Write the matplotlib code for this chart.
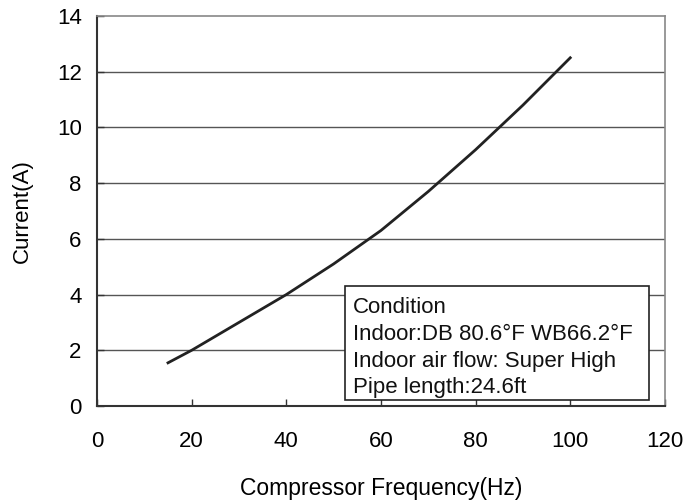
import matplotlib
matplotlib.use("Agg")
import numpy as np
from matplotlib import pyplot as plt
from matplotlib.patches import Rectangle

# data
freq = [15, 20, 30, 40, 50, 60, 70, 80, 90, 100]
current = [1.55, 2.0, 3.0, 4.0, 5.1, 6.3, 7.7, 9.2, 10.8, 12.5]
xticks = [0, 20, 40, 60, 80, 100, 120]
yticks = [0, 2, 4, 6, 8, 10, 12, 14]
cond_lines = ["Condition",
              "Indoor:DB 80.6\u00b0F WB66.2\u00b0F",
              "Indoor air flow: Super High",
              "Pipe length:24.6ft"]

plt.rcParams['font.family'] = ['Liberation Sans', 'DejaVu Sans']

fig = plt.figure(figsize=(6.89, 5.0), dpi=100)
ax = fig.add_axes([0.1408, 0.188, 0.8242, 0.78])

for yv in yticks[1:-1]:
    ax.axhline(yv, color='#555555', lw=1.0, zorder=1)

ax.plot(freq, current, color='#222222', lw=2.0, zorder=3)

ax.set_xlim(0, 120)
ax.set_ylim(0, 14)
ax.set_xticks(xticks)
ax.set_yticks(yticks)
ax.tick_params(direction='in', length=5, width=1, colors='#333333',
               labelsize=16, labelcolor='black')
ax.tick_params(axis='x', pad=18)
ax.tick_params(axis='y', pad=11)

for s in ['left', 'bottom']:
    ax.spines[s].set_color('#333333')
    ax.spines[s].set_linewidth(1.5)
for s in ['top', 'right']:
    ax.spines[s].set_color('#888888')
    ax.spines[s].set_linewidth(1.2)

ax.set_xlabel("Compressor Frequency(Hz)", fontsize=16.5, labelpad=18)
ax.set_ylabel("Current(A)", fontsize=16, labelpad=17)

# condition box
ax.add_patch(Rectangle((0.437, 0.015), 0.535, 0.292, transform=ax.transAxes,
                       facecolor='white', edgecolor='#222222', lw=1.2, zorder=4))
ys = [0.252, 0.183, 0.115, 0.047]
for txt, yy in zip(cond_lines, ys):
    ax.text(0.451, yy, txt, transform=ax.transAxes, fontsize=16,
            va='center', ha='left', color='#111111', zorder=5)

fig.savefig("out.png", dpi=100)
